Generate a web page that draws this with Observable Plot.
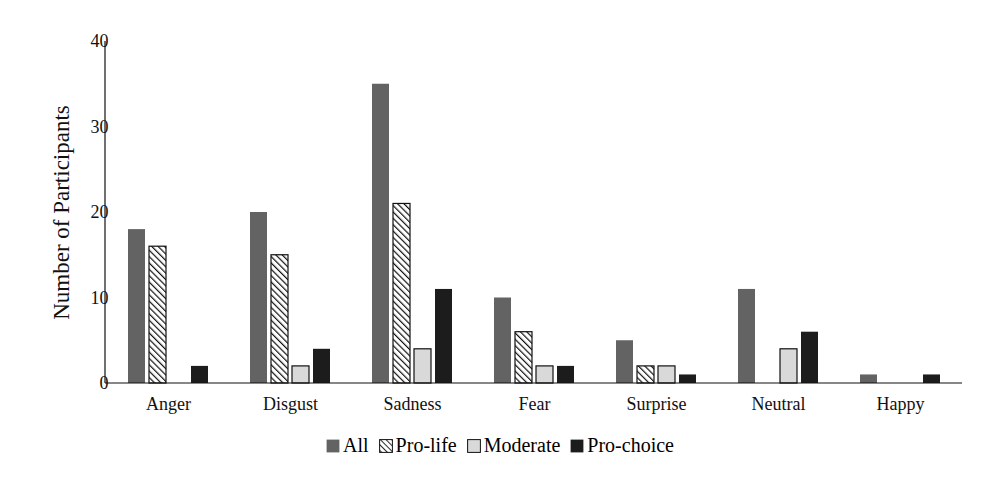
<!DOCTYPE html>
<html><head><meta charset="utf-8">
<script src="https://cdn.jsdelivr.net/npm/d3@7"></script>
<script src="https://cdn.jsdelivr.net/npm/@observablehq/plot@0.6"></script>
<style>
body{margin:0;background:#fff;font-family:"Liberation Serif","Times New Roman",serif;}
#legend{display:flex;justify-content:center;gap:10px;font-size:20px;margin-top:4px;margin-left:0px}
#legend span{display:flex;align-items:center;gap:3px}
</style></head><body>
<div id="chart"></div>
<div id="legend"></div>
<script>
const categories = ["Anger","Disgust","Sadness","Fear","Surprise","Neutral","Happy"];
const seriesNames = ["All","Pro-life","Moderate","Pro-choice"];
const allVals = [18,20,35,10,5,11,1];
const proLife = [16,15,21,6,2,0,0];
const moderate = [0,2,4,2,2,4,0];
const proChoice = [2,4,11,2,1,6,1];
const yTicks = [0,10,20,30,40];

const fills = {"All":"#636363","Pro-life":"url(#hatch)","Moderate":"#d9d9d9","Pro-choice":"#1c1c1c"};
const strokes = {"All":"none","Pro-life":"#111","Moderate":"#111","Pro-choice":"none"};
const cols = [allVals, proLife, moderate, proChoice];
const data = [];
categories.forEach((c,i)=>seriesNames.forEach((s,j)=>data.push({category:c,series:s,value:cols[j][i]})));

const chart = Plot.plot({
  width:1000, height:430, marginLeft:105, marginTop:41, marginBottom:47, marginRight:38,
  style:{fontFamily:"Liberation Serif, serif", fontSize:"18px", color:"#111"},
  fx:{domain:categories, paddingInner:0.28, paddingOuter:0.14, label:null},
  x:{domain:seriesNames, padding:0.18, axis:null},
  y:{domain:[0,40], axis:null},
  marks:[
    Plot.axisFx({anchor:"bottom", tickSize:0, tickPadding:14, fontSize:18}),
    Plot.axisY({ticks:yTicks, anchor:"left", tickSize:0, tickPadding:16, fontSize:18,
      label:"Number of Participants", labelAnchor:"center", labelArrow:"none", labelOffset:72}),
    Plot.barY(data,{fx:"category", x:"series", y:"value", fill:d=>fills[d.series], stroke:d=>strokes[d.series], strokeWidth:1.2})
  ]
});
document.getElementById("chart").append(chart);
const svg = d3.select(chart);
const defs = svg.insert("defs",":first-child");
const p = defs.append("pattern").attr("id","hatch").attr("patternUnits","userSpaceOnUse").attr("width",4.5).attr("height",4.5).attr("patternTransform","rotate(-45)");
p.append("rect").attr("width",4.5).attr("height",4.5).attr("fill","#fff");
p.append("line").attr("x1",0).attr("y1",0).attr("x2",0).attr("y2",4.5).attr("stroke","#111").attr("stroke-width",2.4);
svg.append("line").attr("x1",105).attr("x2",105).attr("y1",41).attr("y2",383).attr("stroke","#111").attr("stroke-width",1.2);
svg.append("line").attr("x1",105).attr("x2",962).attr("y1",383).attr("y2",383).attr("stroke","#111").attr("stroke-width",1.2);
svg.selectAll("[aria-label='y-axis label'] text, [aria-label='y-axis label']").style("font-size","23px");
const leg = d3.select("#legend");
seriesNames.forEach(s=>{
  const sp = leg.append("span");
  const sw = sp.append("svg").attr("width",14).attr("height",14);
  const d2 = sw.append("defs").append("pattern").attr("id","h2"+s.replace(/\W/g,"")).attr("patternUnits","userSpaceOnUse").attr("width",4).attr("height",4).attr("patternTransform","rotate(-45)");
  d2.append("rect").attr("width",4).attr("height",4).attr("fill","#fff");
  d2.append("line").attr("x1",0).attr("y1",0).attr("x2",0).attr("y2",4).attr("stroke","#111").attr("stroke-width",1.8);
  sw.append("rect").attr("x",0.6).attr("y",0.6).attr("width",12.8).attr("height",12.8)
    .attr("fill", s==="Pro-life" ? "url(#h2Prolife)" : fills[s]).attr("stroke", strokes[s]==="none"?"none":"#111");
  sp.append("span").text(s);
});
</script>
</body></html>
